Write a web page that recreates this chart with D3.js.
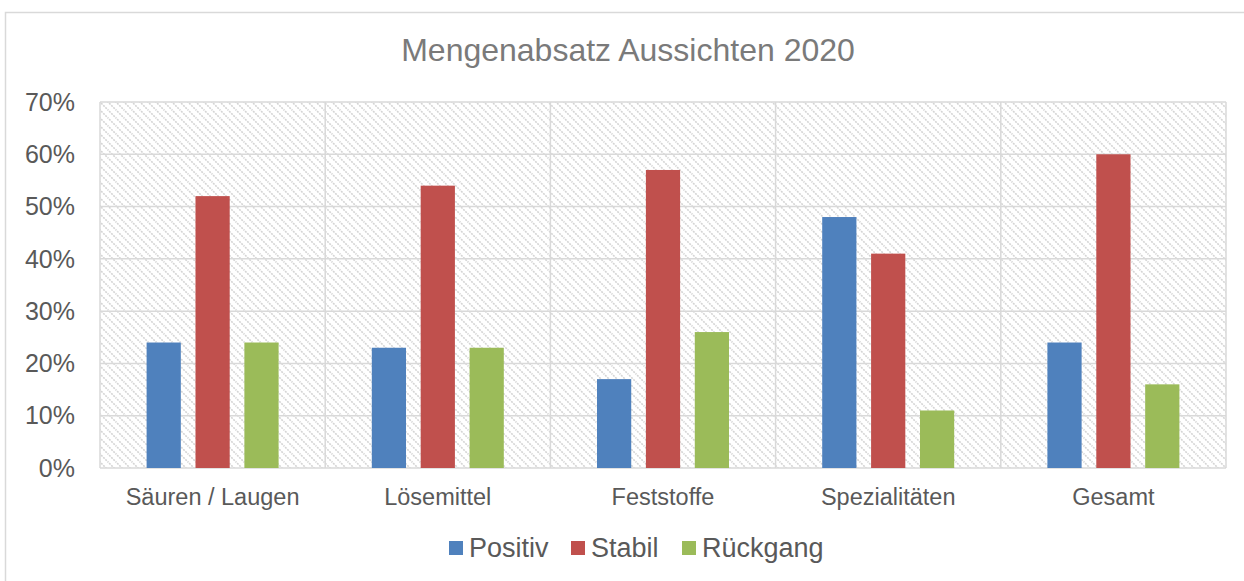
<!DOCTYPE html>
<html>
<head>
<meta charset="utf-8">
<script src="https://cdn.jsdelivr.net/npm/d3@7"></script>
<style>
  body { margin: 0; background: #fff; }
  text { font-family: "Liberation Sans", Arial, sans-serif; }
</style>
</head>
<body>
<div id="chart-area"></div>
<script>
// Data
const categories = ['Säuren / Laugen', 'Lösemittel', 'Feststoffe', 'Spezialitäten', 'Gesamt'];
const seriesNames = ['Positiv', 'Stabil', 'Rückgang'];
const positiv = [0.24, 0.23, 0.17, 0.48, 0.24];
const stabil = [0.52, 0.54, 0.57, 0.41, 0.60];
const rueckgang = [0.24, 0.23, 0.26, 0.11, 0.16];
const yTicks = [0, 0.1, 0.2, 0.3, 0.4, 0.5, 0.6, 0.7];
const colors = ['#4f81bd', '#c0504d', '#9bbb59'];

const series = [positiv, stabil, rueckgang];

// Margins
const W = 1244, H = 581;
const margin = { left: 100, right: 18, top: 102, bottom: 113 };
const width = W - margin.left - margin.right;
const height = H - margin.top - margin.bottom;

const svg = d3.select('#chart-area')
  .append('svg')
    .attr('width', W)
    .attr('height', H);

// Hatch pattern for the plot area
const defs = svg.append('defs');
const pat = defs.append('pattern')
  .attr('id', 'hatch')
  .attr('patternUnits', 'userSpaceOnUse')
  .attr('width', 8)
  .attr('height', 8);
pat.append('path')
  .attr('d', 'M-1,-1 L9,9 M7,-1 L9,1 M-1,7 L1,9')
  .attr('stroke', '#d4d4d4')
  .attr('stroke-width', 1.6)
  .attr('stroke-dasharray', '2,1');

// Outer chart frame (clipped by window)
svg.append('rect')
  .attr('x', 5.5)
  .attr('y', 12.5)
  .attr('width', 1400)
  .attr('height', 800)
  .attr('fill', 'none')
  .attr('stroke', '#d9d9d9')
  .attr('stroke-width', 1.5);

const g = svg.append('g')
  .attr('transform', 'translate(' + margin.left + ', ' + margin.top + ')');

// Scales
const x0 = d3.scaleBand()
  .domain(categories)
  .range([0, width]);

const x1 = d3.scaleBand()
  .domain(seriesNames)
  .range([x0.bandwidth() / 2 - 66, x0.bandwidth() / 2 + 66])
  .paddingInner(0.3);

const y = d3.scaleLinear()
  .domain([0, 0.7])
  .range([height, 0]);

// Plot background
g.append('rect')
  .attr('width', width)
  .attr('height', height)
  .attr('fill', 'url(#hatch)');

// Horizontal gridlines
g.selectAll('.hgrid')
  .data(yTicks)
  .enter().append('line')
    .attr('x1', 0)
    .attr('x2', width)
    .attr('y1', d => y(d))
    .attr('y2', d => y(d))
    .attr('stroke', '#d9d9d9')
    .attr('stroke-width', 1.5);

// Vertical gridlines at category boundaries
const vLines = categories.map(c => x0(c)).concat([width]);
g.selectAll('.vgrid')
  .data(vLines)
  .enter().append('line')
    .attr('x1', d => d)
    .attr('x2', d => d)
    .attr('y1', 0)
    .attr('y2', height)
    .attr('stroke', '#d9d9d9')
    .attr('stroke-width', 1.5);

// Bars
categories.forEach((cat, i) => {
  seriesNames.forEach((s, j) => {
    g.append('rect')
      .attr('x', x0(cat) + x1(s))
      .attr('y', y(series[j][i]))
      .attr('width', x1.bandwidth())
      .attr('height', height - y(series[j][i]))
      .attr('fill', colors[j]);
  });
});

// Y axis labels
g.selectAll('.ytick')
  .data(yTicks)
  .enter().append('text')
    .attr('x', -25)
    .attr('y', d => y(d))
    .attr('dy', '0.35em')
    .attr('text-anchor', 'end')
    .attr('font-size', '25px')
    .attr('fill', '#595959')
    .text(d => d3.format('.0%')(d));

// X axis labels
g.selectAll('.xtick')
  .data(categories)
  .enter().append('text')
    .attr('x', d => x0(d) + x0.bandwidth() / 2)
    .attr('y', height + 37)
    .attr('text-anchor', 'middle')
    .attr('font-size', '23.5px')
    .attr('fill', '#595959')
    .text(d => d);

// Title
svg.append('text')
  .attr('x', 628)
  .attr('y', 61)
  .attr('text-anchor', 'middle')
  .attr('font-size', '32px')
  .attr('fill', '#7a7a7a')
  .text('Mengenabsatz Aussichten 2020');

// Legend
const legendX = [449, 571, 682];
const legend = svg.selectAll('.legend')
  .data(seriesNames)
  .enter().append('g')
    .attr('transform', (d, i) => 'translate(' + legendX[i] + ', 548)');

legend.append('rect')
  .attr('x', 0)
  .attr('y', -7)
  .attr('width', 14)
  .attr('height', 14)
  .attr('fill', (d, i) => colors[i]);

legend.append('text')
  .attr('x', 20)
  .attr('y', 0)
  .attr('dy', '0.35em')
  .attr('font-size', '27px')
  .attr('fill', '#595959')
  .text(d => d);
</script>
</body>
</html>
